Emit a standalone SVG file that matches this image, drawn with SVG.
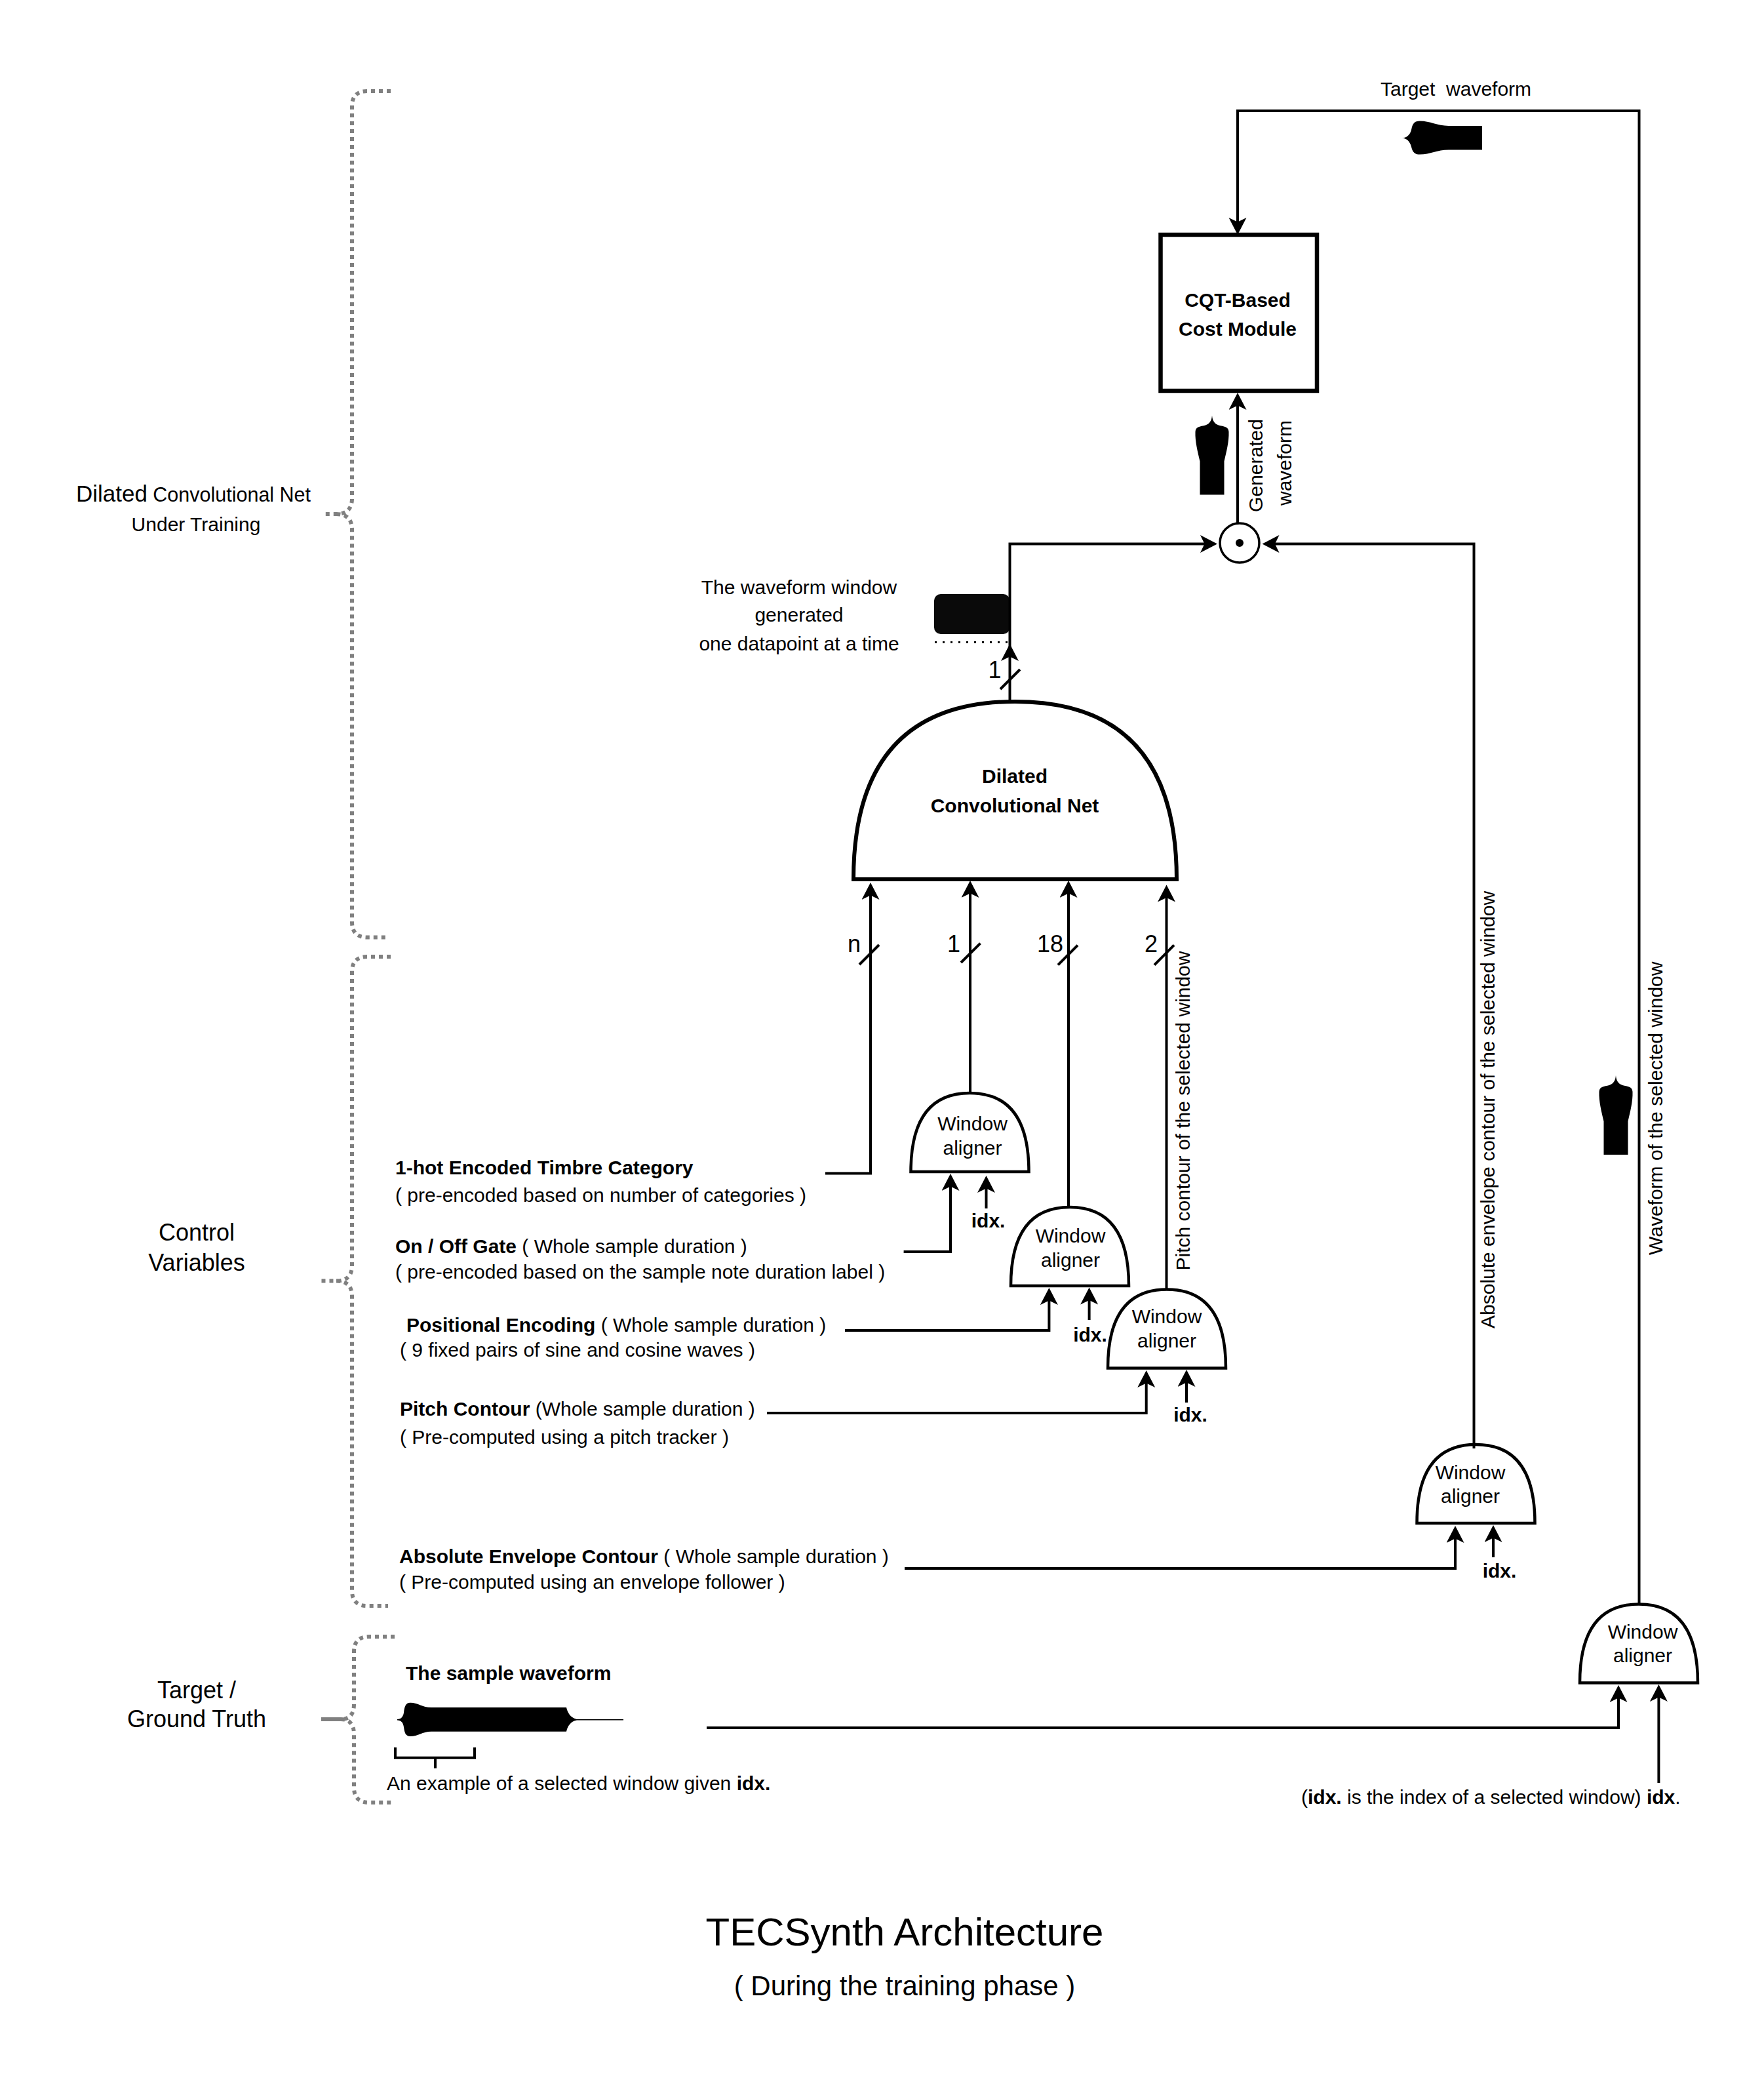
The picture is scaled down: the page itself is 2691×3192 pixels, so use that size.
<svg xmlns="http://www.w3.org/2000/svg" width="2691" height="3192" viewBox="0 0 2691 3192">
<style>
text{font-family:"Liberation Sans",Arial,sans-serif;font-size:30px;fill:#000;white-space:pre}
.b,tspan.b{font-weight:bold}
.m{text-anchor:middle}
.lg{font-size:36px}
.num{font-size:36px;text-anchor:middle}
.dome{fill:#fff;stroke:#000;stroke-width:4.5}
.conn{fill:none;stroke:#000;stroke-width:4}
.arr{marker-end:url(#ah)}
.tick{fill:none;stroke:#000;stroke-width:4}
.brace{fill:none;stroke:#808080;stroke-width:6;stroke-dasharray:6 6}
</style>
<defs>
<marker id="ah" markerUnits="userSpaceOnUse" markerWidth="30" markerHeight="30" refX="18" refY="13.5" orient="auto">
<path d="M26 13.5L0 0L6.5 13.5L0 27Z" fill="#000"/>
</marker>
<path id="wv" fill="#000" d="M0 0C0.5 8 4 13 10 15C18 17 25 17 25.5 25C26 40 22 55 18.5 70L18.5 121L-18.5 121L-18.5 70C-22 55-26 40-25.5 25C-25 17-18 17-10 15C-4 13-0.5 8 0 0Z"/>
<path id="al" class="dome" d="M0 120Q0 0 90 0Q180 0 180 120Z"/>
</defs>
<rect width="2691" height="3192" fill="#fff"/>

<g id="brace-net">
<path class="brace" d="M596 139H560Q537 139 537 162V760Q537 784 513 784H491M513 784Q537 784 537 808V1406Q537 1429.5 560 1429.5H591"/>
<text x="116" y="765"><tspan style="font-size:35px">Dilated</tspan> <tspan style="font-size:30.5px">Convolutional Net</tspan></text>
<text class="m" x="299" y="810">Under Training</text>
</g>
<g id="brace-control">
<path class="brace" d="M596 1459H560Q537 1459 537 1482V1930Q537 1953.6 513 1953.6H486M513 1953.6Q537 1953.6 537 1977V2426Q537 2449 560 2449H592"/>
<text class="m lg" x="300" y="1892">Control</text>
<text class="m lg" x="300" y="1938">Variables</text>
</g>
<g id="brace-target">
<path class="brace" d="M602 2496H563Q540 2496 540 2519V2599Q540 2622 520 2622M520 2622Q540 2622 540 2645V2726Q540 2749 563 2749H602"/>
<path d="M490 2622H520" fill="none" stroke="#808080" stroke-width="6"/>
<text class="m lg" x="300" y="2590">Target /</text>
<text class="m lg" x="300" y="2634">Ground Truth</text>
</g>

<g id="cost-module">
<rect x="1770.5" y="358" width="238.5" height="238" fill="#fff" stroke="#000" stroke-width="6.5"/>
<text class="m b" x="1888" y="468">CQT-Based</text>
<text class="m b" x="1888" y="512">Cost Module</text>
</g>
<g id="product">
<circle cx="1891" cy="828" r="30" fill="#fff" stroke="#000" stroke-width="3.5"/>
<circle cx="1891" cy="828" r="6" fill="#000"/>
</g>
<g id="dcn">
<path d="M1302 1341Q1302 1070 1548.5 1070Q1795 1070 1795 1341Z" fill="#fff" stroke="#000" stroke-width="6"/>
<text class="m b" x="1548" y="1194">Dilated</text>
<text class="m b" x="1548" y="1238.6">Convolutional Net</text>
</g>
<g id="aligner-1">
<use href="#al" transform="translate(1389.5 1667)"/>
<text class="m" x="1483.5" y="1724">Window</text>
<text class="m" x="1483.5" y="1760.7">aligner</text>
</g>
<g id="aligner-2">
<use href="#al" transform="translate(1542 1841)"/>
<text class="m" x="1633" y="1895.4">Window</text>
<text class="m" x="1633" y="1931.8">aligner</text>
</g>
<g id="aligner-3">
<use href="#al" transform="translate(1690 1966.5)"/>
<text class="m" x="1780" y="2018">Window</text>
<text class="m" x="1780" y="2054.6">aligner</text>
</g>
<g id="aligner-4">
<use href="#al" transform="translate(2161.5 2203)"/>
<text class="m" x="2243" y="2255.6">Window</text>
<text class="m" x="2243" y="2291.6">aligner</text>
</g>
<g id="aligner-5">
<use href="#al" transform="translate(2410 2446.5)"/>
<text class="m" x="2506" y="2498.8">Window</text>
<text class="m" x="2506" y="2534.7">aligner</text>
</g>

<g id="generated-window">
<rect x="1425" y="906" width="115.5" height="61" rx="10" fill="#0a0a0a"/>
<path d="M1426 979.5H1540" fill="none" stroke="#000" stroke-width="3" stroke-dasharray="3 9"/>
<text class="m" x="1219" y="905.7">The waveform window</text>
<text class="m" x="1219" y="948">generated</text>
<text class="m" x="1219" y="992">one datapoint at a time</text>
</g>

<g id="waveforms">
<path fill="#000" d="M2139 210.6C2146 210 2151 206 2153 198C2155 188 2158 184.6 2166 184.6C2182 184.6 2192 192 2210 192L2261 192L2261 228.5L2210 228.5C2192 228.5 2182 235.6 2166 235.6C2158 235.6 2155 232 2153 224C2151 216 2146 211 2139 210.6Z"/>
<use href="#wv" transform="translate(1849 633.6)"/>
<use href="#wv" transform="translate(2465 1640)"/>
<path fill="#000" d="M606 2622C612 2622 615 2618 616 2612C617 2604 618 2596.7 626 2596.7C638 2596.7 644 2604 658 2604L864 2604C866 2613 871 2620 880 2622L951 2622L951 2623.5L880 2623.5C871 2625 866 2632 864 2640.7L658 2640.7C644 2640.7 638 2648 626 2648C618 2648 617 2641 616 2634C615 2627 612 2623.5 606 2623.5Z"/>
<path class="tick" stroke-width="3" d="M603 2665V2680.7H724V2665M664 2680.7V2696.7"/>
</g>

<g id="control-labels">
<text x="603" y="1790.7" class="b">1-hot Encoded Timbre Category</text>
<text x="603" y="1832.7">( pre-encoded based on number of categories )</text>
<text x="603" y="1911"><tspan class="b">On / Off Gate</tspan> ( Whole sample duration )</text>
<text x="603" y="1950">( pre-encoded based on the sample note duration label )</text>
<text x="620" y="2030.7"><tspan class="b">Positional Encoding</tspan> ( Whole sample duration )</text>
<text x="610" y="2069">( 9 fixed pairs of sine and cosine waves )</text>
<text x="610" y="2159"><tspan class="b">Pitch Contour</tspan> (Whole sample duration )</text>
<text x="610" y="2201.7">( Pre-computed using a pitch tracker )</text>
<text x="609" y="2384"><tspan class="b">Absolute Envelope Contour</tspan> ( Whole sample duration )</text>
<text x="609" y="2423">( Pre-computed using an envelope follower )</text>
<text x="619" y="2561.7" class="b">The sample waveform</text>
<text x="590" y="2730">An example of a selected window given <tspan class="b">idx.</tspan></text>
</g>

<g id="connector-labels">
<text x="2106" y="146">Target  waveform</text>
<text transform="translate(1925.5 710) rotate(-90)" class="m">Generated</text>
<text transform="translate(1970 706) rotate(-90)" class="m">waveform</text>
<text transform="translate(1815 1937.5) rotate(-90)">Pitch contour of the selected window</text>
<text transform="translate(2280 2026) rotate(-90)">Absolute envelope contour of the selected window</text>
<text transform="translate(2536 1914) rotate(-90)">Waveform of the selected window</text>
<text class="num" x="1517.5" y="1034">1</text>
<text class="num" x="1303" y="1452">n</text>
<text class="num" x="1455" y="1452">1</text>
<text class="num" x="1602" y="1452">18</text>
<text class="num" x="1756" y="1452">2</text>
<text class="m b" x="1507.6" y="1871.7">idx.</text>
<text class="m b" x="1663" y="2045.8">idx.</text>
<text class="m b" x="1816" y="2168">idx.</text>
<text class="m b" x="2287.5" y="2406">idx.</text>
<text x="1985" y="2751">(<tspan class="b">idx.</tspan> is the index of a selected window) <tspan class="b">idx</tspan>.</text>
</g>

<g id="connectors">
<path class="conn arr" d="M2500.5 2447V169H1888V350"/>
<path class="conn arr" d="M1888 798V607"/>
<path class="conn arr" d="M1540.5 1070V829.5H1849"/>
<path class="conn arr" d="M1540.5 1000V990"/>
<path class="conn arr" d="M2248.5 2209V829.5H1933.5"/>
<path class="conn arr" d="M1259 1789.4H1328V1354"/>
<path class="conn arr" d="M1480 1667V1351"/>
<path class="conn arr" d="M1630 1841V1351"/>
<path class="conn arr" d="M1779.5 1967V1357.5"/>
<path class="conn arr" d="M1378.6 1909H1450V1798"/>
<path class="conn arr" d="M1504.5 1843V1801"/>
<path class="conn arr" d="M1289 2029H1600.4V1972"/>
<path class="conn arr" d="M1661.6 2013V1971.5"/>
<path class="conn arr" d="M1170 2155H1748.7V2098"/>
<path class="conn arr" d="M1810 2139V2097"/>
<path class="conn arr" d="M1380 2392H2220V2335"/>
<path class="conn arr" d="M2278 2375V2334"/>
<path class="conn arr" d="M1078 2635H2469V2578"/>
<path class="conn arr" d="M2530.4 2719V2577"/>
<path class="tick" d="M1311 1471L1341 1441M1466 1468L1495.5 1438.6M1614 1471.6L1644 1441.7M1761 1471.6L1791 1441.4M1526 1051L1556 1021"/>
</g>

<g id="title">
<text class="m" x="1380" y="2967" style="font-size:60px">TECSynth Architecture</text>
<text class="m" x="1380" y="3043" style="font-size:42px">( During the training phase )</text>
</g>
</svg>
